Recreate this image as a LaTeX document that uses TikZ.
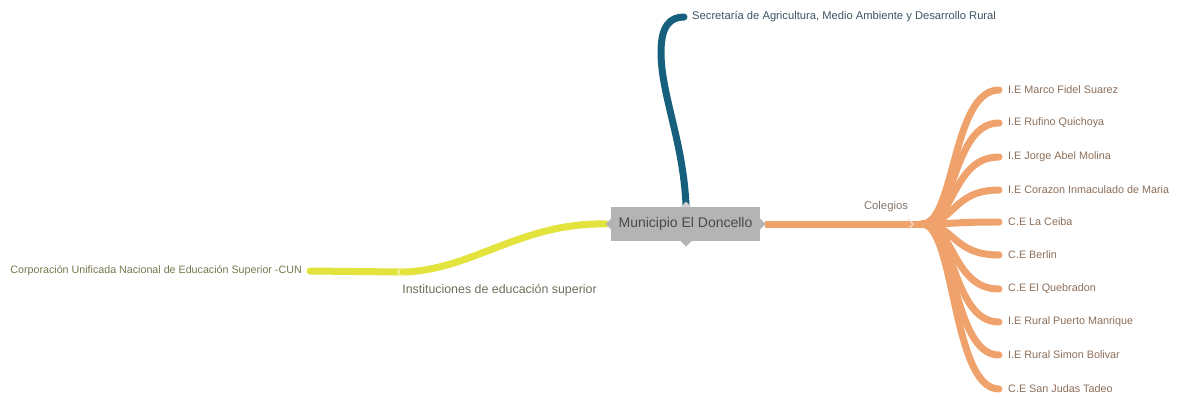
\documentclass[tikz,border=0pt]{standalone}
\usepackage{fontspec}
\setmainfont{Liberation Sans}
\definecolor{teal1}{HTML}{17607D}
\definecolor{orng}{HTML}{EFA26B}
\definecolor{yell}{HTML}{E2E33C}
\definecolor{boxgray}{HTML}{B4B4B4}
\definecolor{roottext}{HTML}{4A4A4A}
\definecolor{leafO}{HTML}{8C6E58}
\definecolor{leafY}{HTML}{77774F}
\definecolor{leafB}{HTML}{3D5561}
\definecolor{lblO}{HTML}{85766A}
\definecolor{lblY}{HTML}{6E6E5A}
\begin{document}
\begin{tikzpicture}[x=1pt,y=-1pt,
  rootbox/.style={fill=boxgray, minimum width=149pt, minimum height=34pt, inner sep=0pt, text=roottext, font=\fontsize{14}{16}\selectfont},
  leafo/.style={anchor=west, inner sep=0pt, text=leafO, font=\fontsize{10.8}{12}\selectfont},
  leafy/.style={anchor=east, inner sep=0pt, text=leafY, font=\fontsize{10.7}{12}\selectfont},
  leafb/.style={anchor=west, inner sep=0pt, text=leafB, font=\fontsize{11.2}{12}\selectfont},
  lblo/.style={inner sep=0pt, text=lblO, font=\fontsize{11.3}{13}\selectfont},
  lbly/.style={inner sep=0pt, text=lblY, font=\fontsize{12.4}{14}\selectfont},
  brO/.style={draw=orng, line width=7pt, line cap=round},
  brOmain/.style={draw=orng, line width=7pt},
  brY/.style={draw=yell, line width=7pt, line cap=round},
  brB/.style={draw=teal1, line width=7pt, line cap=round},
  notch/.style={fill=boxgray},
  chevO/.style={draw=orng!35, line width=1.2pt},
  chevY/.style={draw=yell!40, line width=1.2pt}
]
\useasboundingbox (0,0) rectangle (1177,397);

% junction coordinates
\coordinate (oJ) at (912,224);
\coordinate (hub) at (922,224);
\coordinate (yJ) at (400,272);
\coordinate (yE) at (310,271);
\coordinate (bE) at (684,17);

% branches (drawn first)
\draw[brB] (686,205) .. controls (683,140) and (661,95) .. (661,52) .. controls (661,26) and (670,17) .. (bE);
\draw[brY] (606,224) .. controls (520,222) and (470,272) .. (yJ);
\draw[brY] (yJ) -- (yE);
\draw[brOmain] (765,224) -- (oJ);
\draw[brO] (oJ) -- (hub);

% leaves of Colegios
\foreach \i/\y/\t in {1/90/{I.E Marco Fidel Suarez},
                      2/123/{I.E Rufino Quichoya},
                      3/157/{I.E Jorge Abel Molina},
                      4/190/{I.E Corazon Inmaculado de Maria},
                      5/222/{C.E La Ceiba},
                      6/255/{C.E Berlin},
                      7/289/{C.E El Quebradon},
                      8/322/{I.E Rural Puerto Manrique},
                      9/355/{I.E Rural Simon Bolivar},
                      10/389/{C.E San Judas Tadeo}} {
  \coordinate (e\i) at (999,\y);
  \node[leafo] (c\i) at (1008,\y) {\t};
  \draw[brO] (hub) .. controls (955,224) and (952,\y) .. (e\i);
}

% root box
\node[rootbox] (root) at (685.5,224) {Municipio El Doncello};
\fill[notch] (611,218.5) -- (605.5,224) -- (611,229.5) -- cycle;
\fill[notch] (760,218.5) -- (765.5,224) -- (760,229.5) -- cycle;
\fill[notch] (680.5,241) -- (686,246.5) -- (691.5,241) -- cycle;
\fill[boxgray!60] (681,207) -- (686,201.5) -- (691,207) -- cycle;

% chevrons
\draw[chevO] (908.5,219) -- (913,224) -- (908.5,229);
\draw[chevY] (402,267) -- (397.5,272) -- (402,277);

% labels
\node[lblo] (colegios) at (886,207) {Colegios};
\node[lbly] (ies) at (499.5,290) {Instituciones de educación superior};
\node[leafy] (cun) at (302,271) {Corporación Unificada Nacional de Educación Superior -CUN};
\node[leafb] (sec) at (692,17) {Secretaría de Agricultura, Medio Ambiente y Desarrollo Rural};
\end{tikzpicture}
\end{document}
